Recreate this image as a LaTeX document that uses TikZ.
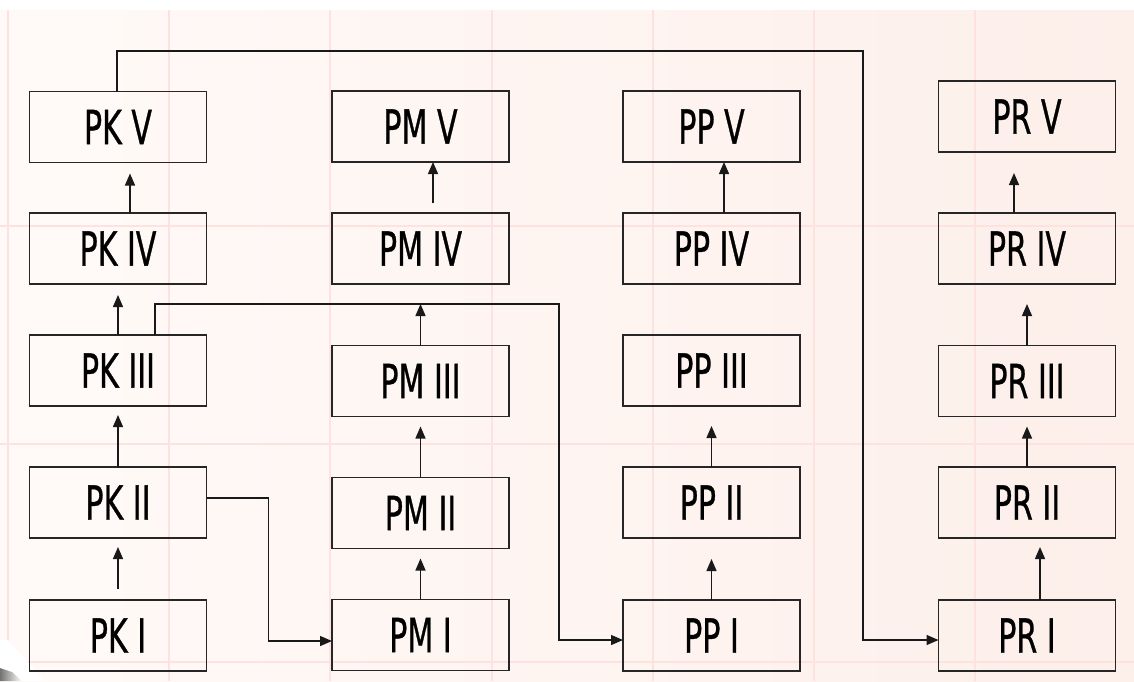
\documentclass[tikz,border=0pt]{standalone}
\usepackage{fontspec}
\setmainfont[FakeStretch=0.64,FakeBold=0.6]{DejaVu Sans}
\usetikzlibrary{arrows.meta,calc}
\definecolor{bgA}{HTML}{FFFAF8}
\definecolor{bgB}{HTML}{FDEFEA}
\definecolor{gridc}{HTML}{FDE2DF}
\tikzset{
  stage/.style={draw=black!85, line width=0.8pt, rectangle, inner sep=0pt, outer sep=0pt,
    minimum width=88.5pt, minimum height=35.5pt, font=\fontsize{23.5}{25}\selectfont},
  conn/.style={draw=black!90, line width=0.7pt},
  arr/.style={conn, -{Triangle[length=6pt,width=5pt]}}
}
\begin{document}
\begin{tikzpicture}[x=0.5pt,y=-0.5pt]
\useasboundingbox (0,0) rectangle (1134,681);
% background
\fill[white] (0,0) rectangle (1134,681);
\shade[left color=bgA, right color=bgB] (0,10) rectangle (1134,681);
\foreach \gx in {8,169,330,492,653,814,975}
  \draw[gridc, line width=0.7pt] (\gx,10) -- (\gx,681);
\foreach \gy in {226,444,662}
  \draw[gridc, line width=0.7pt] (0,\gy) -- (1134,\gy);
\fill[white] (0,640) -- (8,640) -- (45,681) -- (0,681) -- cycle;
\shade[left color=black!55, right color=white] (0,668) -- (12,672) -- (22,681) -- (0,681) -- cycle;

% column K
\node[stage] (PKV)   at (118,127)   {PK V};
\node[stage] (PKIV)  at (118,248.5) {PK IV};
\node[stage] (PKIII) at (118,370.5) {PK III};
\node[stage] (PKII)  at (118,502.5) {PK II};
\node[stage] (PKI)   at (118,635.5) {PK I};
% column M
\node[stage] (PMV)   at (420.5,126.5) {PM V};
\node[stage] (PMIV)  at (420.5,248.5) {PM IV};
\node[stage] (PMIII) at (420.5,381)   {PM III};
\node[stage] (PMII)  at (420.5,513)   {PM II};
\node[stage] (PMI)   at (420.5,635)   {PM I};
% column P
\node[stage] (PPV)   at (711.5,126.5) {PP V};
\node[stage] (PPIV)  at (711.5,248.5) {PP IV};
\node[stage] (PPIII) at (711.5,370.5) {PP III};
\node[stage] (PPII)  at (711.5,502.5) {PP II};
\node[stage] (PPI)   at (711.5,635.5) {PP I};
% column R
\node[stage] (PRV)   at (1027,116.5) {PR V};
\node[stage] (PRIV)  at (1027,248.5) {PR IV};
\node[stage] (PRIII) at (1027,381)   {PR III};
\node[stage] (PRII)  at (1027,502.5) {PR II};
\node[stage] (PRI)   at (1027,635.5) {PR I};

\coordinate (b1) at (559,304);
\coordinate (b2) at (863,51);

% K arrows
\draw[arr] ($(PKIV.north)+(12,0)$) -- ($(PKV.south)+(12,11)$);
\draw[arr] (PKIII.north) -- ($(PKIV.south)+(0,11)$);
\draw[arr] (PKII.north) -- ($(PKIII.south)+(0,9)$);
\draw[arr] ($(PKI.north)+(0,-11)$) -- ($(PKII.south)+(0,9)$);
\draw[arr] ($(PKII.east)+(0,-4.5)$) -- ++(62,0) |- ($(PMI.west)+(0,6)$);
\draw[arr] ($(PKIII.north)+(37,0)$) |- (b1) |- ($(PPI.west)+(0,4.5)$);
\draw[arr] ($(PKV.north)+(-1,0)$) |- (b2) |- ($(PRI.west)+(0,4.5)$);
% M arrows
\draw[arr] ($(PMIV.north)+(12.5,-10)$) -- ($(PMV.south)+(12.5,0)$);
\draw[arr] (PMIII.north) -- (PMIII.north |- b1);
\draw[arr] (PMII.north) -- ($(PMIII.south)+(0,10)$);
\draw[arr] (PMI.north) -- ($(PMII.south)+(0,10)$);
% P arrows
\draw[arr] ($(PPIV.north)+(12.5,0)$) -- ($(PPV.south)+(12.5,0)$);
\draw[arr] (PPII.north) -- ($(PPIII.south)+(0,20)$);
\draw[arr] (PPI.north) -- ($(PPII.south)+(0,21)$);
% R arrows
\draw[arr] ($(PRIV.north)+(-13,0)$) -- ($(PRV.south)+(-13,21)$);
\draw[arr] (PRIII.north) -- ($(PRIV.south)+(0,20)$);
\draw[arr] (PRII.north) -- ($(PRIII.south)+(0,10)$);
\draw[arr] ($(PRI.north)+(13,0)$) -- ($(PRII.south)+(13,9)$);
\end{tikzpicture}
\end{document}
